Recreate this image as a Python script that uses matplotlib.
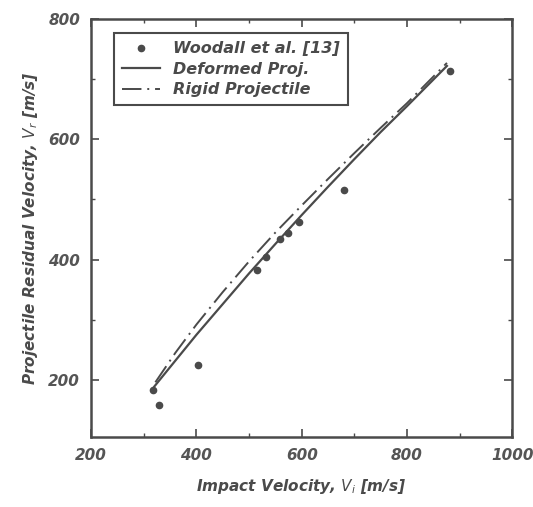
import matplotlib.pyplot as plt
from matplotlib.ticker import MultipleLocator

# Woodall et al. experimental points
exp_vi = [317, 329, 403, 515, 533, 559, 574, 594, 680, 881]
exp_vr = [183, 158, 225, 382, 405, 435, 444, 463, 515, 714]

# model curves
def_vi = [320, 360, 400, 450, 500, 550, 600, 650, 700, 750, 800, 876]
def_vr = [189, 232, 275, 326, 377, 426, 474, 521, 567, 612, 655, 722]
rig_vi = [322, 360, 400, 450, 500, 550, 600, 650, 700, 750, 800, 876]
rig_vr = [196, 245, 292, 346, 397, 445, 490, 534, 577, 619, 660, 727]

ink = '#4a4a4a'
font = dict(family='DejaVu Sans', style='italic', weight='bold', color=ink)

fig = plt.figure(figsize=(5.33, 5.07), dpi=100)
ax = fig.add_axes([0.171, 0.138, 0.79, 0.8245])

ax.plot(exp_vi, exp_vr, 'o', color=ink, ms=4.5, label='Woodall et al. [13]')
ax.plot(def_vi, def_vr, '-', color=ink, lw=1.6, label='Deformed Proj.')
ax.plot(rig_vi, rig_vr, color=ink, lw=1.4, dashes=(10, 3, 1, 3),
        label='Rigid Projectile')

ax.set_xlim(200, 1000)
ax.set_ylim(105, 800)
ax.xaxis.set_major_locator(MultipleLocator(200))
ax.xaxis.set_minor_locator(MultipleLocator(100))
ax.yaxis.set_major_locator(MultipleLocator(200))
ax.yaxis.set_minor_locator(MultipleLocator(100))
ax.tick_params(which='both', direction='in', top=True, right=True, color=ink)
ax.tick_params(which='major', length=6, width=1.2, pad=8)
ax.tick_params(which='minor', length=3, width=1)
for s in ax.spines.values():
    s.set_color(ink)
    s.set_linewidth(1.8)

for lab in ax.get_xticklabels() + ax.get_yticklabels():
    lab.set_fontsize(11)
    lab.set_fontstyle('italic')
    lab.set_fontweight('bold')
    lab.set_color('#555555')

ax.set_xlabel('Impact Velocity, $V_i$ [m/s]', fontsize=11, labelpad=10, **font)
ax.set_ylabel('Projectile Residual Velocity, $V_r$ [m/s]', fontsize=11, labelpad=6, **font)

leg = ax.legend(loc='upper left', bbox_to_anchor=(0.035, 0.985), fancybox=False,
                edgecolor=ink, framealpha=1, handlelength=2.4, borderpad=0.5,
                labelspacing=0.35, prop=dict(family='DejaVu Sans', style='italic',
                                             weight='bold', size=11.5))
leg.get_frame().set_linewidth(1.5)
for t in leg.get_texts():
    t.set_color(ink)

fig.savefig('out.png', dpi=100)
